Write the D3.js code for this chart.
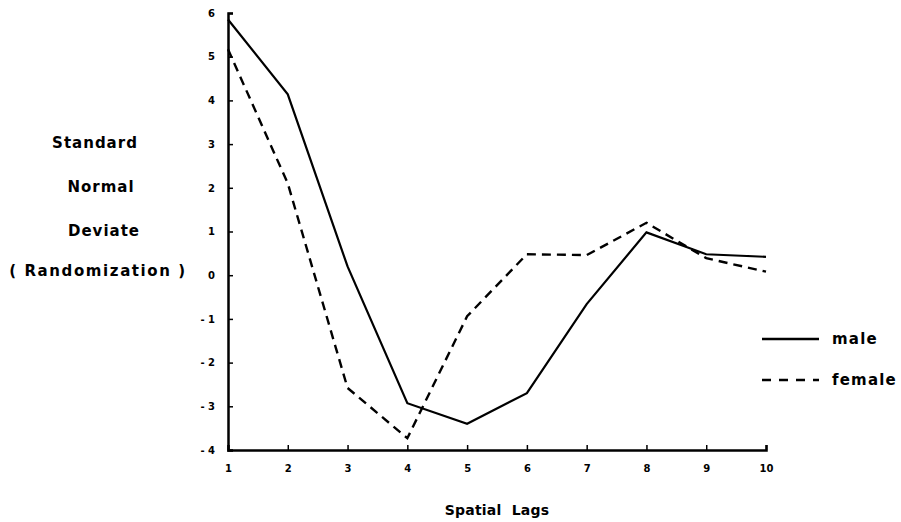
<!DOCTYPE html>
<html>
<head>
<meta charset="utf-8">
<script src="https://cdn.jsdelivr.net/npm/d3@7"></script>
<style>
  body { margin: 0; background: #fff; }
  text { font-family: "DejaVu Sans", sans-serif; font-weight: bold; fill: #000; white-space: pre; }
</style>
</head>
<body>
<svg id="chart" width="901" height="522"></svg>
<script>
// data
const lags = [1, 2, 3, 4, 5, 6, 7, 8, 9, 10];
const male = [5.85, 4.14, 0.2, -2.93, -3.4, -2.7, -0.66, 0.98, 0.48, 0.42];
const female = [5.17, 2.1, -2.58, -3.73, -0.94, 0.48, 0.46, 1.2, 0.39, 0.08];
const yTicks = [-4, -3, -2, -1, 0, 1, 2, 3, 4, 5, 6];
const yLabelLines = ["Standard", "Normal", "Deviate", "( Randomization )"];

const svg = d3.select("#chart");

const x = d3.scaleLinear().domain([1, 10]).range([228, 766]);
const y = d3.scaleLinear().domain([-4, 6]).range([450, 13]);

// axes, ticks point inward
const xAxis = svg.append("g")
  .attr("transform", `translate(0,${y(-4)})`)
  .call(d3.axisBottom(x).tickValues(lags).tickSize(-5).tickPadding(15).tickFormat(d3.format("d")));
const yAxis = svg.append("g")
  .attr("transform", `translate(${x(1)},0)`)
  .call(d3.axisLeft(y).tickValues(yTicks).tickSize(-5).tickPadding(13).tickFormat(d => d < 0 ? "- " + Math.abs(d) : d));

[xAxis, yAxis].forEach(g => {
  g.select(".domain").attr("stroke", "#000").attr("stroke-width", 2.5);
  g.selectAll(".tick line").attr("stroke", "#000").attr("stroke-width", 1.5);
  g.selectAll(".tick text").style("font-size", "10px").style("font-family", "\"DejaVu Sans\", sans-serif");
});

const line = d3.line()
  .x((d, i) => x(lags[i]))
  .y(d => y(d));

svg.append("path")
  .datum(male)
  .attr("d", line)
  .attr("fill", "none")
  .attr("stroke", "#000")
  .attr("stroke-width", 2.2);

svg.append("path")
  .datum(female)
  .attr("d", line)
  .attr("fill", "none")
  .attr("stroke", "#000")
  .attr("stroke-width", 2.4)
  .attr("stroke-dasharray", "9,6");

// y axis title
svg.append("g").selectAll("text")
  .data(yLabelLines)
  .join("text")
  .attr("x", (d, i) => [95, 101, 104, 98][i])
  .attr("y", (d, i) => [148, 192, 236, 276][i])
  .attr("text-anchor", "middle")
  .style("font-size", "15px")
  .style("letter-spacing", (d, i) => i === 3 ? "1.6px" : "1px")
  .text(d => d);

svg.append("text")
  .attr("x", 497)
  .attr("y", 515)
  .attr("text-anchor", "middle")
  .style("font-size", "14px")
  .style("letter-spacing", "0.2px")
  .text("Spatial  Lags");

// legend
const legend = svg.append("g");
const legendItems = [
  { name: "male", dash: null, y: 339 },
  { name: "female", dash: "9,8", y: 380 }
];
legendItems.forEach(it => {
  legend.append("line")
    .attr("x1", 762).attr("x2", 819)
    .attr("y1", it.y).attr("y2", it.y)
    .attr("stroke", "#000")
    .attr("stroke-width", 2.4)
    .attr("stroke-dasharray", it.dash);
  legend.append("text")
    .attr("x", 832)
    .attr("y", it.y + 5)
    .style("font-size", "15px")
    .style("letter-spacing", "1.2px")
    .text(it.name);
});
</script>
</body>
</html>
